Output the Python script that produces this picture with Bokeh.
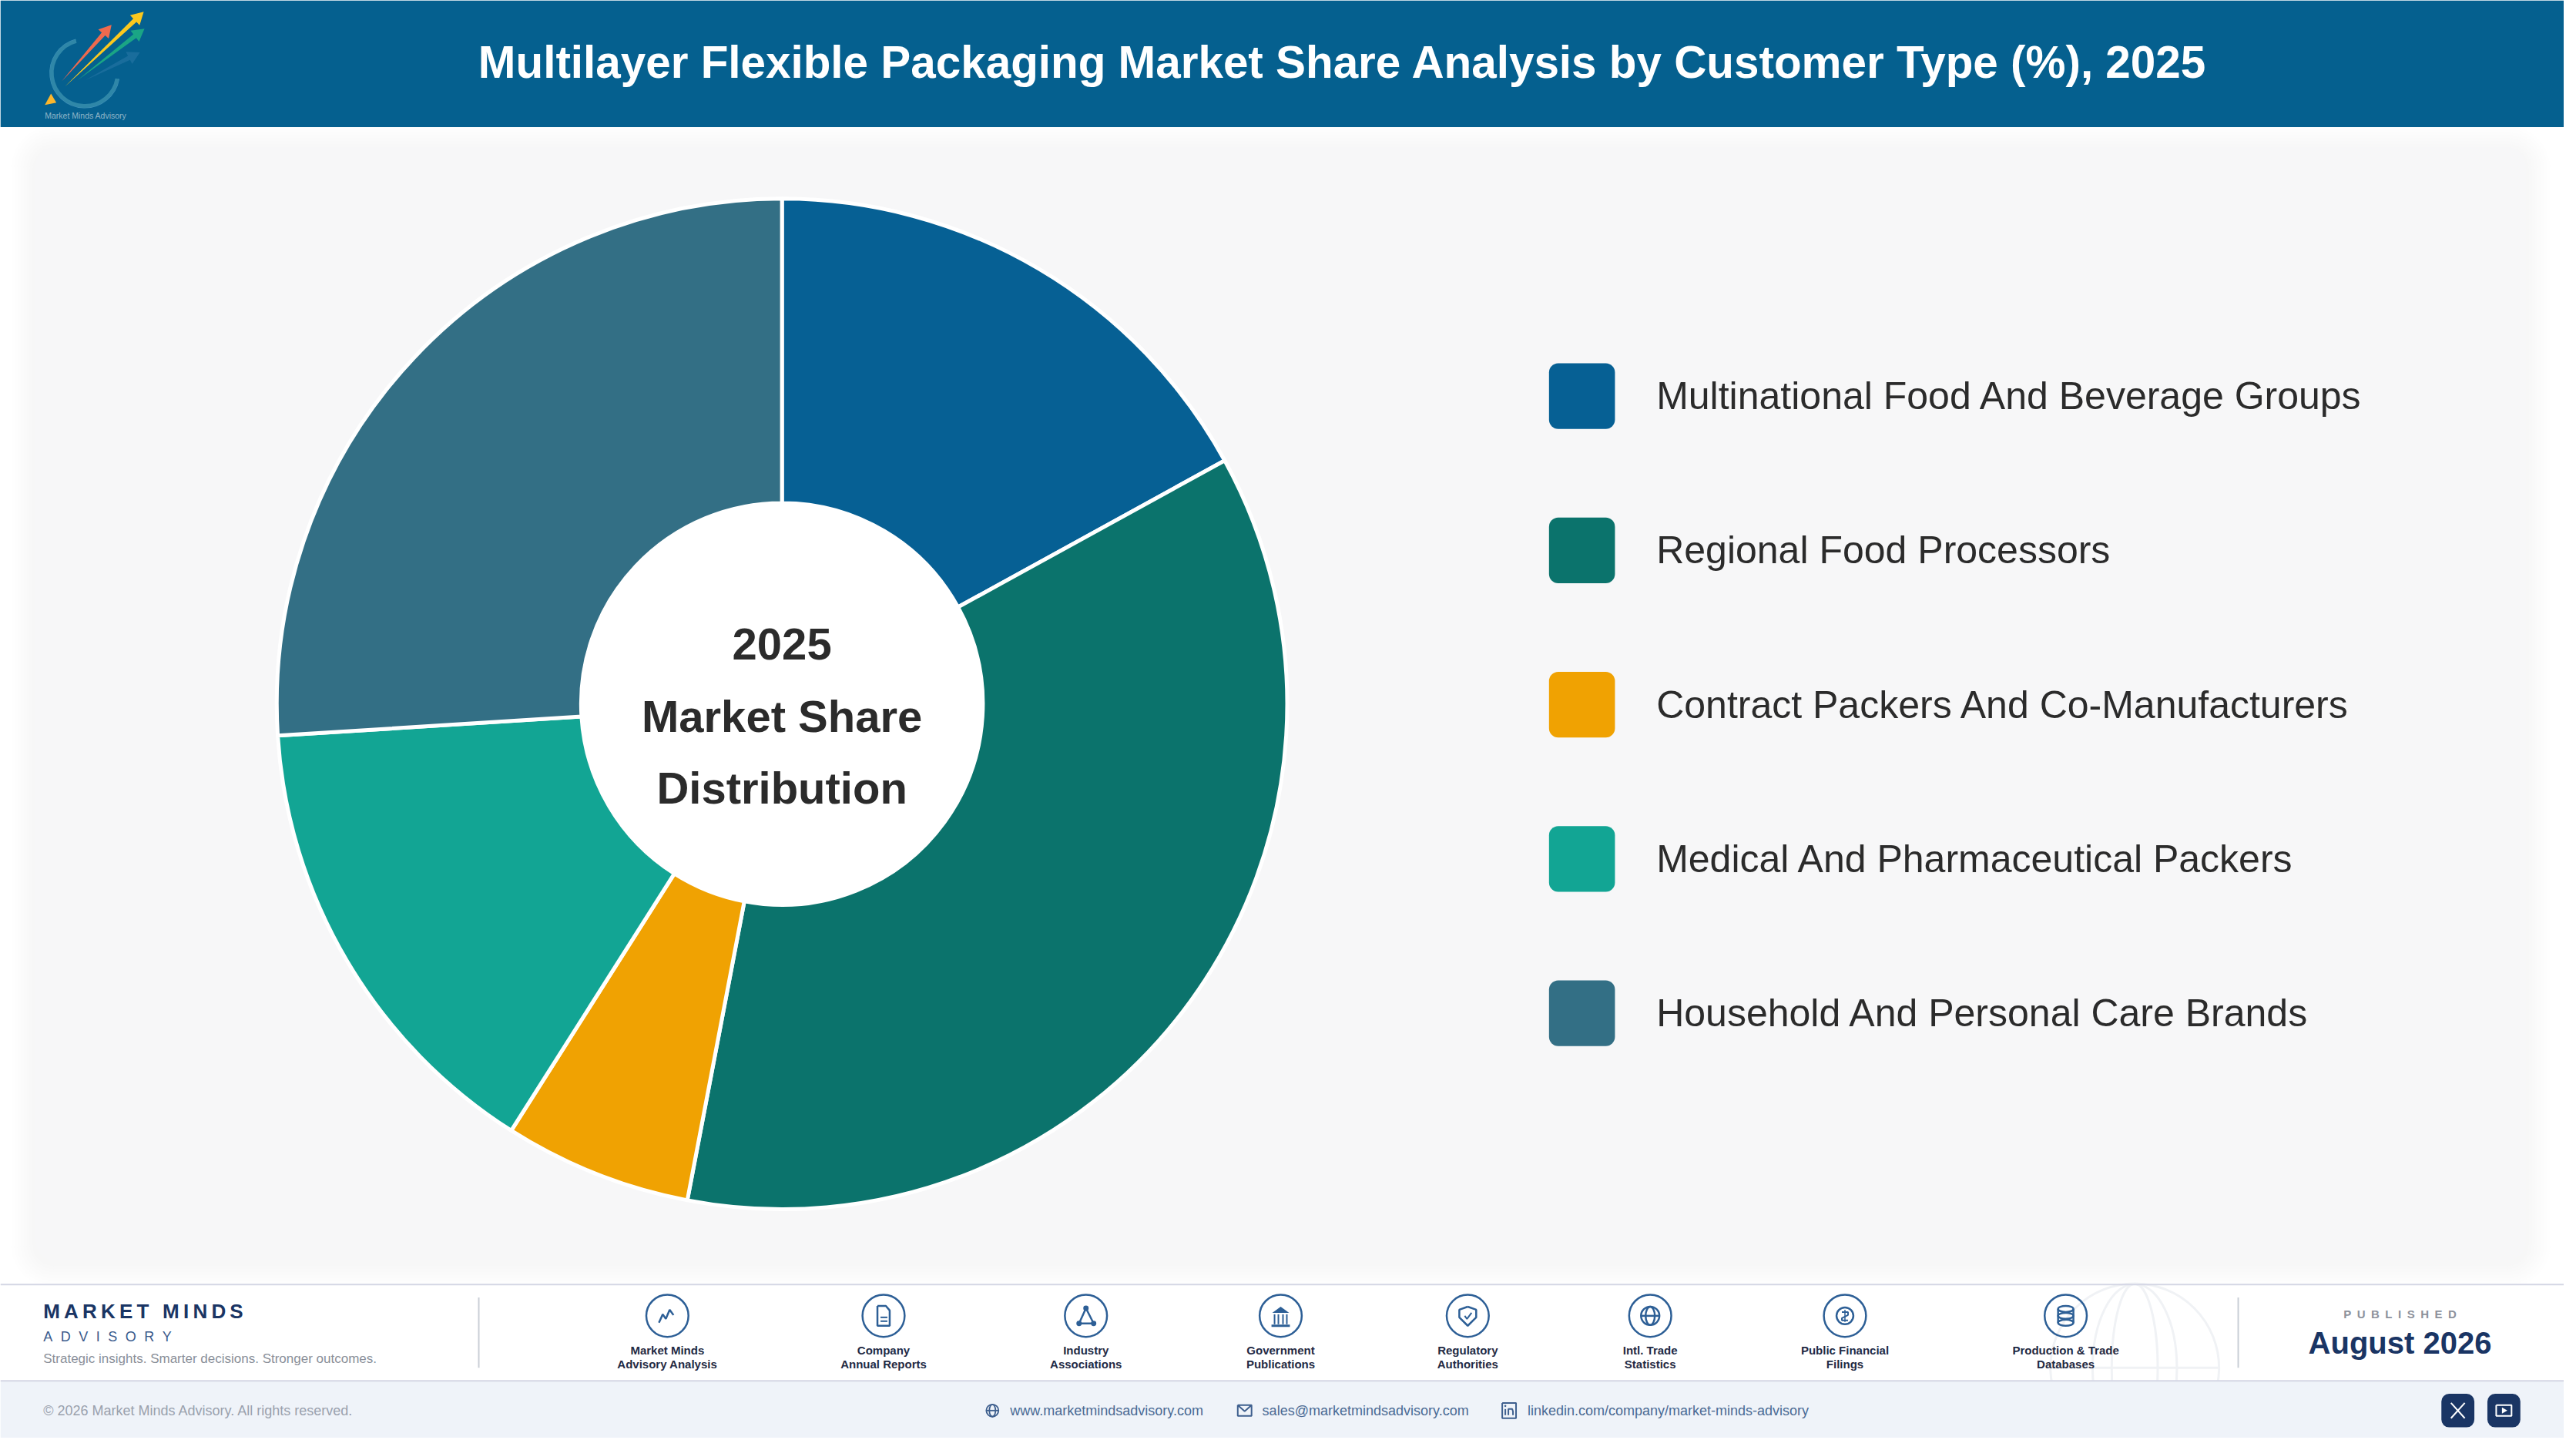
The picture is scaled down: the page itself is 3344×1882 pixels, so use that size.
#!/usr/bin/env python3

import math

from bokeh.core.properties import value
from bokeh.embed import file_html
from bokeh.plotting import figure
from bokeh.resources import INLINE

TITLE = "Multilayer Flexible Packaging Market Share Analysis by Customer Type (%), 2025"
CENTER_LINES = ["2025", "Market Share", "Distribution"]

segments = [
    "Multinational Food And Beverage Groups",
    "Regional Food Processors",
    "Contract Packers And Co-Manufacturers",
    "Medical And Pharmaceutical Packers",
    "Household And Personal Care Brands",
]
shares = [17, 36, 6, 15, 26]
colors = ["#066094", "#0b736c", "#f0a202", "#12a594", "#336f85"]

source_labels = [
    ("Market Minds", "Advisory Analysis"),
    ("Company", "Annual Reports"),
    ("Industry", "Associations"),
    ("Government", "Publications"),
    ("Regulatory", "Authorities"),
    ("Intl. Trade", "Statistics"),
    ("Public Financial", "Filings"),
    ("Production & Trade", "Databases"),
]
source_x = [870, 1152, 1416, 1670, 1914, 2152, 2406, 2694]

FONT = "Liberation Sans"
NAVY = "#1a3564"
ICON = "#2d5f96"
W, H = 3328, 1866


def Y(y):
    return 1882 - y


p = figure(
    width=W,
    height=H,
    x_range=(0, 3344),
    y_range=(0, 1882),
    x_axis_type=None,
    y_axis_type=None,
    min_border=0,
    outline_line_color=None,
    toolbar_location=None,
    output_backend="svg",
    background_fill_color="white",
)
p.grid.visible = False


def label(x, y, txt, size, color, bold=False, align="left"):
    p.text(
        [x],
        [Y(y)],
        text=[txt],
        text_font=value(FONT),
        text_font_size=f"{size}px",
        text_font_style="bold" if bold else "normal",
        text_color=color,
        text_align=align,
        text_baseline="middle",
    )


def box(x0, x1, y0, y1, color, radius=0, alpha=1.0):
    p.quad(
        left=[x0],
        right=[x1],
        top=[Y(y0)],
        bottom=[Y(y1)],
        fill_color=color,
        fill_alpha=alpha,
        line_color=None,
        border_radius=radius,
    )


def path(cx, cy, pts, color=ICON, width=2.5):
    p.line(
        [cx + a for a, b in pts],
        [Y(cy + b) for a, b in pts],
        line_color=color,
        line_width=width,
    )


def ring(cx, cy, r, color=ICON, width=2.5):
    p.circle([cx], [Y(cy)], radius=r, fill_color=None, line_color=color, line_width=width)


def dot(cx, cy, r, color=ICON):
    p.circle([cx], [Y(cy)], radius=r, fill_color=color, line_color=None)


def oval(cx, cy, w, h, color=ICON, width=2.5):
    p.ellipse([cx], [Y(cy)], width=w, height=h, fill_color=None, line_color=color, line_width=width)


def globe(cx, cy, r, color=ICON, width=2.5):
    ring(cx, cy, r, color, width)
    oval(cx, cy, r, 2 * r, color, width)
    path(cx, cy, [(-r, 0), (r, 0)], color, width)


def spaced(txt, sep):
    return sep.join(txt)


# header
box(0, 3344, 0, 166, "#05608f")
label(1751, 81, TITLE, 58.4, "white", bold=True, align="center")

# logo
p.arc(
    [110],
    [Y(95)],
    radius=45,
    start_angle=math.radians(-10),
    end_angle=math.radians(105),
    direction="clock",
    line_color="#3e8fb8",
    line_width=2,
)
p.arc(
    [110],
    [Y(95)],
    radius=43,
    start_angle=math.radians(105),
    end_angle=math.radians(350),
    line_color="#2f87a8",
    line_width=5,
)


def arrow(tip, tail, color, alpha=1.0):
    dx, dy = tip[0] - tail[0], tip[1] - tail[1]
    n = math.hypot(dx, dy)
    ux, uy = dx / n, dy / n
    vx, vy = -uy, ux
    neck = (tip[0] - ux * 16, tip[1] - uy * 16)
    xs = [tail[0], neck[0] + vx * 3, neck[0] + vx * 9, tip[0], neck[0] - vx * 9, neck[0] - vx * 3]
    ys = [tail[1], neck[1] + vy * 3, neck[1] + vy * 9, tip[1], neck[1] - vy * 9, neck[1] - vy * 3]
    p.patch(xs, [Y(v) for v in ys], fill_color=color, fill_alpha=alpha, line_color=None)


arrow((182, 68), (110, 105), "#2a78a8", 0.55)
arrow((188, 37), (100, 105), "#1aa585")
arrow((187, 15), (84, 113), "#fbc81e")
arrow((145, 32), (80, 106), "#ee6a4e")
p.patch(
    [58, 66, 73],
    [Y(137), Y(122), Y(134)],
    fill_color="#fbb62c",
    line_color=None,
)
label(58, 151, "Market Minds Advisory", 10.5, "#8fb6c8")

# card with soft shadow
for i in range(8):
    grow = 32 - i * 4
    box(46 - grow, 3294 + grow, 192 - grow + 4, 1649 + grow + 4, "#8a8f9c", 24 + grow, 0.012)
box(46, 3294, 192, 1649, "#f7f7f8", 24)

# donut
cum = 0
cx, cy = 1019.5, 921
for share, color in zip(shares, colors):
    start = math.pi / 2 - 2 * math.pi * cum / 100
    cum += share
    end = math.pi / 2 - 2 * math.pi * cum / 100
    p.annular_wedge(
        [cx],
        [Y(cy)],
        inner_radius=262,
        outer_radius=659,
        start_angle=start,
        end_angle=end,
        direction="clock",
        fill_color=color,
        line_color="white",
        line_width=5,
    )
dot(cx, cy, 262, "white")
for txt, y in zip(CENTER_LINES, [843, 937, 1031]):
    label(cx, y, txt, 58, "#2b2b2b", bold=True, align="center")

# legend
for name, color, y in zip(segments, colors, [518, 720, 922, 1124, 1326]):
    box(2020, 2106, y - 43, y + 43, color, 12)
    label(2160, y, name, 50, "#2b2b2b")

# footer
box(0, 3344, 1681, 1807, "white")
globe(2784, 1790, 110, "#f0f2f5", 3)
oval(2784, 1790, 60, 220, "#f0f2f5", 3)
box(0, 3344, 1807, 1882, "#eff3f9")
box(0, 3344, 1680, 1682, "#d4d6e4")
box(0, 3344, 1806, 1808, "#d4d6e4")
box(623, 625, 1698, 1790, "#c9ced6")
box(2918, 2920, 1698, 1790, "#c9ced6")

label(56, 1716, spaced("MARKET MINDS", "\u2009"), 26, NAVY, bold=True)
label(56, 1749, spaced("ADVISORY", "\u2002\u200a"), 18, "#3a5a8c")
label(56, 1778, "Strategic insights. Smarter decisions. Stronger outcomes.", 17, "#8a8f99")

for (l1, l2), x in zip(source_labels, source_x):
    ring(x, 1722, 27.5)
    label(x, 1767, l1, 15, "#1f2a44", bold=True, align="center")
    label(x, 1785, l2, 15, "#1f2a44", bold=True, align="center")

# source icons
path(source_x[0], 1722, [(-11, 9), (-6, -2), (-2, 4), (3, -8), (8, -1)])

x = source_x[1]
path(x, 1722, [(-8, -13), (3, -13), (8, -7), (8, 13), (-8, 13), (-8, -13)])
path(x, 1722, [(-4, 2), (5, 2)], width=2)
path(x, 1722, [(-4, 7), (5, 7)], width=2)

x = source_x[2]
path(x, 1722, [(0, -10), (-9, 10), (10, 10), (0, -10)])
dot(x, 1712, 3.5)
dot(x - 9, 1732, 3.5)
dot(x + 10, 1732, 3.5)

x = source_x[3]
p.patch(
    [x - 11, x, x + 11],
    [Y(1718), Y(1710), Y(1718)],
    fill_color=ICON,
    line_color=None,
)
for dx in [-8, -3, 3, 8]:
    path(x, 1722, [(dx, -2), (dx, 11)], width=2)
path(x, 1722, [(-12, 13), (12, 13)], width=3)

x = source_x[4]
path(x, 1722, [(0, -12), (11, -8), (11, 2), (0, 13), (-11, 2), (-11, -8), (0, -12)])
path(x, 1722, [(-4, 0), (-1, 4), (5, -4)], width=2)

globe(source_x[5], 1722, 12)

x = source_x[6]
ring(x, 1722, 11)
path(x, 1722, [(-4, -5), (4, -5), (4, -1), (-4, 3), (-4, 6), (4, 6)], width=2)
path(x, 1722, [(0, -8), (0, 8)], width=1.5)

x = source_x[7]
for dy in [-9, 0, 9]:
    oval(x, 1722 + dy, 20, 8)
path(x, 1722, [(-10, -9), (-10, 9)])
path(x, 1722, [(10, -9), (10, 9)])

# published
label(3130, 1720, spaced("PUBLISHED", "\u2002"), 15, "#8d929c", bold=True, align="center")
label(3130, 1757, "August 2026", 40, NAVY, bold=True, align="center")

# bottom strip
label(56, 1846, "\u00a9 2026 Market Minds Advisory. All rights reserved.", 18, "#9aa1ad")
LINK = "#4a6a94"
globe(1294, 1846, 8, "#3e5f8e", 1.8)
label(1317, 1846, "www.marketmindsadvisory.com", 18, LINK)
path(1623, 1846, [(-9, -7), (9, -7), (9, 7), (-9, 7), (-9, -7), (0, 1), (9, -7)], "#3e5f8e", 2)
label(1646, 1846, "sales@marketmindsadvisory.com", 18, LINK)
path(1968, 1846, [(-9, -10), (9, -10), (9, 10), (-9, 10), (-9, -10)], "#3e5f8e", 2)
path(1968, 1846, [(-5, -2), (-5, 6)], "#3e5f8e", 2)
path(1968, 1846, [(-1, 6), (-1, -2), (4, -2), (5, 1), (5, 6)], "#3e5f8e", 2)
dot(1963, 1840, 1.3, "#3e5f8e")
label(1992, 1846, "linkedin.com/company/market-minds-advisory", 18, LINK)

box(3184, 3227, 1824, 1868, NAVY, 10)
path(3205.5, 1846, [(-9, -10), (9, 10)], "white", 2)
path(3205.5, 1846, [(9, -10), (-9, 10)], "white", 2)
box(3244, 3287, 1824, 1868, NAVY, 10)
path(3265.5, 1846, [(-10, -7), (10, -7), (10, 7), (-10, 7), (-10, -7)], "white", 2)
p.patch(
    [3263, 3263, 3270],
    [Y(1842), Y(1850), Y(1846)],
    fill_color="white",
    line_color=None,
)

open("out.html", "w").write(file_html(p, INLINE))
